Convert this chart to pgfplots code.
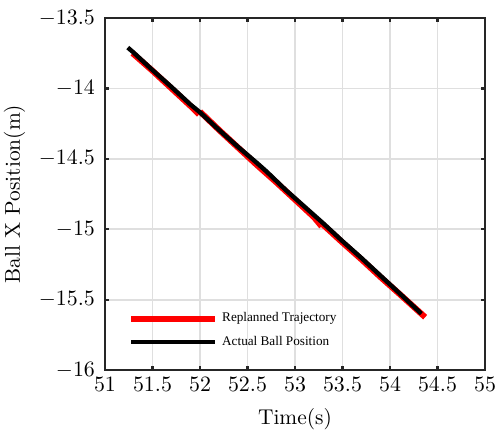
\documentclass[border=0pt]{standalone}
\usepackage{pgfplots}
\pgfplotsset{compat=1.18}
\usepackage{fontspec}
\newfontfamily\legfont{Liberation Serif}
\definecolor{axc}{RGB}{38,38,38}
\definecolor{gridc}{RGB}{223,223,223}
\begin{document}
\begin{tikzpicture}
\begin{axis}[
  scale only axis,
  width=190pt, height=176pt,
  xmin=51, xmax=55, ymin=-16, ymax=-13.5,
  xtick={51,51.5,...,55}, ytick={-16,-15.5,...,-13.5},
  xticklabel style={/pgf/number format/fixed},
  yticklabel style={/pgf/number format/fixed, xshift=-1.5pt},
  tick label style={font=\fontsize{10.7}{13}\selectfont},
  label style={font=\fontsize{10.7}{13}\selectfont},
  xlabel style={yshift=-2pt},
  grid=major,
  major grid style={color=gridc, line width=0.9pt},
  axis line style={color=axc, line width=1.1pt},
  tick style={color=axc, line width=1.1pt},
  tick align=inside, major tick length=2pt,
  xlabel={Time(s)}, ylabel={Ball X Position(m)},
  unbounded coords=jump,
  legend style={draw=none, fill=none, font=\legfont\fontsize{6.6}{8}\selectfont,
    at={(rel axis cs:0.06,0.175)}, anchor=north west, row sep=1.5pt,
    inner sep=0pt},
  legend cell align=left,
  legend image code/.code={\draw[#1] (0pt,0pt) -- (42pt,0pt);},
]
\addplot[red, line width=3pt] coordinates {
 (51.29,-13.75) (51.50,-13.875) (51.70,-14.00) (51.90,-14.125) (51.99,-14.185)
 (51.995,nan)
 (52.00,-14.165) (52.20,-14.295) (52.40,-14.42) (52.60,-14.545) (52.80,-14.665)
 (53.00,-14.79) (53.20,-14.915) (53.28,-14.98)
 (53.285,nan)
 (53.29,-14.965) (53.50,-15.095) (53.70,-15.215) (53.90,-15.34) (54.10,-15.46) (54.37,-15.625)
};
\addlegendentry{Replanned Trajectory}
\addplot[black, line width=2.2pt] coordinates {
 (51.24,-13.71) (51.30,-13.745) (51.50,-13.87) (51.70,-13.99) (51.90,-14.115)
 (52.00,-14.17) (52.20,-14.295) (52.40,-14.415) (52.60,-14.53) (52.70,-14.59)
 (52.90,-14.72) (53.10,-14.84) (53.30,-14.96) (53.50,-15.085) (53.70,-15.205)
 (53.90,-15.33) (54.10,-15.455) (54.33,-15.60)
};
\addlegendentry{Actual Ball Position}
\end{axis}
\pgfresetboundingbox
\path (-52.5pt,-32.5pt) rectangle (195.5pt,185pt);
\end{tikzpicture}
\end{document}
